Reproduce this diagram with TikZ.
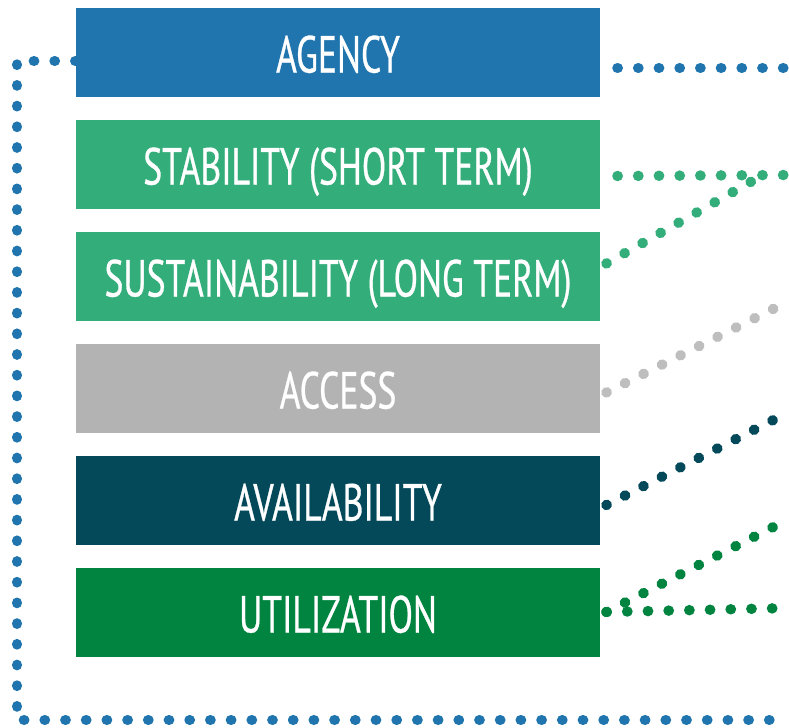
\documentclass[tikz,border=0pt]{standalone}
\usepackage{fontspec}
\setmainfont{PT Sans}[FakeStretch=0.685,FakeBold=0.6]
\usetikzlibrary{calc,positioning}
\definecolor{agencyblue}{HTML}{2075AE}
\definecolor{stabgreen}{HTML}{33AD7A}
\definecolor{accessgrey}{HTML}{B3B3B3}
\definecolor{availteal}{HTML}{03495A}
\definecolor{utilgreen}{HTML}{00843F}

\begin{document}
\begin{tikzpicture}[x=0.5pt,y=-0.5pt,node distance=11pt]

\tikzset{box/.style={minimum width=262pt,minimum height=44.6pt,inner sep=0pt,text=white,text height=20pt,text depth=0pt,font=\fontsize{26}{26}\selectfont},
dots/.style={line width=5.2pt,line cap=round,dash pattern=on 0.2pt off 10.15pt}}

\useasboundingbox (0,0) rectangle (789,728);

% Boxes
\node[box,fill=agencyblue] (agency) at (338,52.5) {AGENCY};
\node[box,fill=stabgreen,below=of agency] (stab) {STABILITY (SHORT TERM)};
\node[box,fill=stabgreen,below=of stab] (sust) {SUSTAINABILITY (LONG TERM)};
\node[box,fill=accessgrey,below=of sust] (access) {ACCESS};
\node[box,fill=availteal,below=of access] (avail) {AVAILABILITY};
\node[box,fill=utilgreen,below=of avail] (util) {UTILIZATION};

% Free ends on the right
\coordinate (agencyEnd) at (789,68);
\coordinate (stabEnd) at (789,175);
\coordinate (sustEnd) at (763,175);
\coordinate (accessEnd) at (789,301);
\coordinate (availEnd) at (789,412);
\coordinate (utilEnd) at (789,519);
\coordinate (utilEndB) at (789,608);
\coordinate (corner) at (17,720);
\coordinate (bottomEnd) at (789,720);

% Dotted connectors
\draw[dots,agencyblue] ($(agency.east)+(17,15.5)$) -- (agencyEnd);
\draw[dots,agencyblue] ($(agency.west)+(0,8.5)$) -| (corner) -- (bottomEnd);
\draw[dots,stabgreen] ($(stab.east)+(17,11.5)$) -- (stabEnd);
\draw[dots,stabgreen] ($(sust.east)+(6,-13)$) -- (sustEnd);
\draw[dots,accessgrey!85!white] ($(access.east)+(6,4)$) -- (accessEnd);
\draw[dots,availteal] ($(avail.east)+(6,4.5)$) -- (availEnd);
\draw[dots,utilgreen] ($(util.east)+(6,-0.5)$) -- (utilEnd);
\draw[dots,utilgreen] ($(util.east)+(6,-0.5)$) -- (utilEndB);

\end{tikzpicture}
\end{document}
